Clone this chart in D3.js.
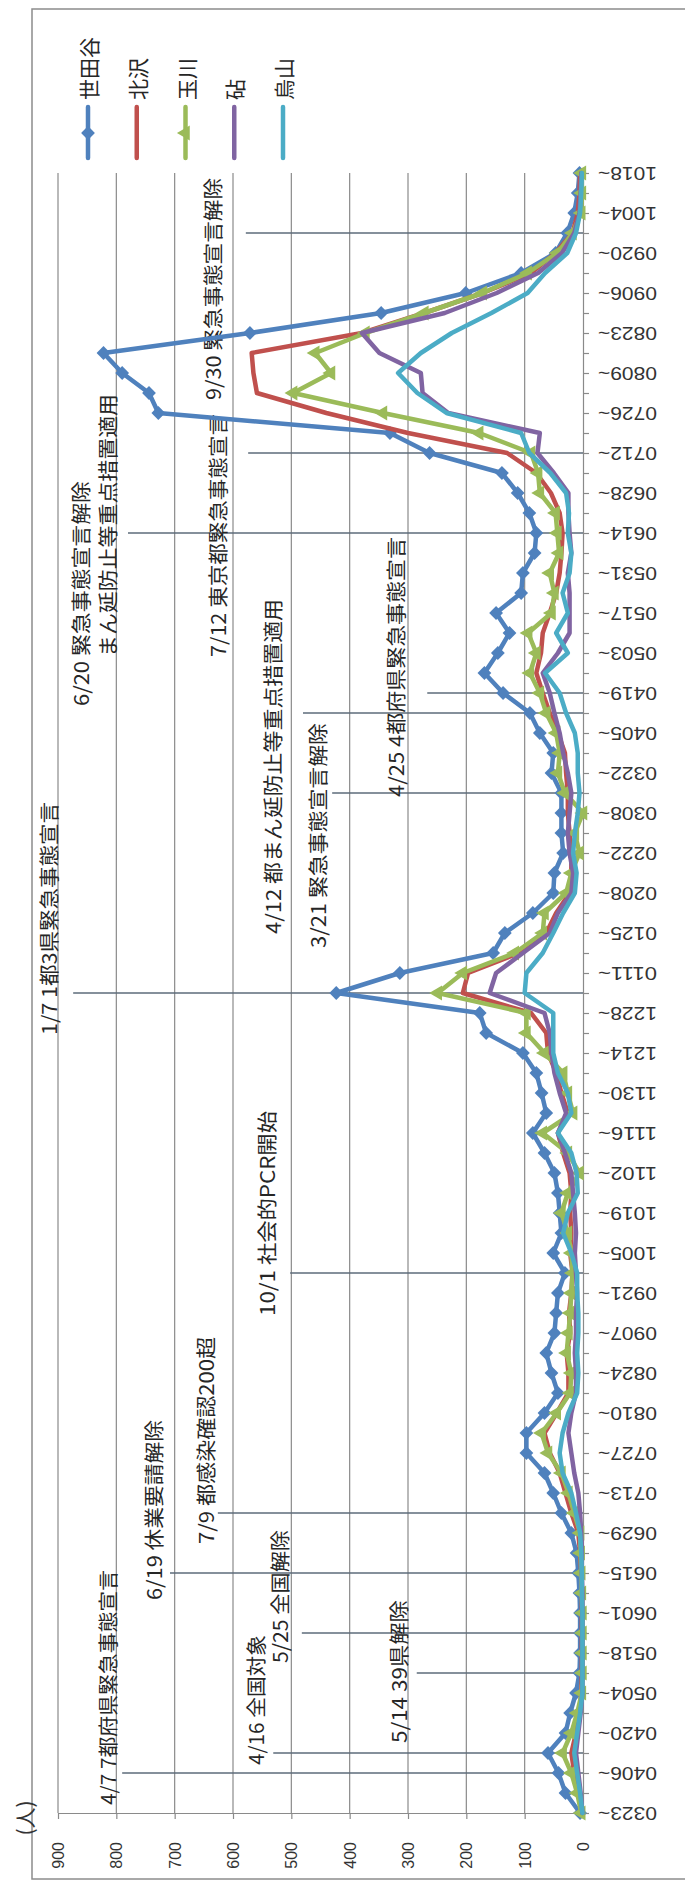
<!DOCTYPE html>
<html><head><meta charset="utf-8">
<script src="https://cdn.jsdelivr.net/npm/d3@7"></script>
<style>
html,body{margin:0;padding:0;background:#fff;}
svg{display:block;}
</style></head>
<body>
<svg id="chart" width="685" height="1881"></svg>
<script>
// ---------- DATA ----------
const weeks = ["0323","0330","0406","0413","0420","0427","0504","0511","0518","0525",
"0601","0608","0615","0622","0629","0706","0713","0720","0727","0803",
"0810","0817","0824","0831","0907","0914","0921","0928","1005","1012",
"1019","1026","1102","1109","1116","1123","1130","1207","1214","1221",
"1228","0104","0111","0118","0125","0201","0208","0215","0222","0301",
"0308","0315","0322","0329","0405","0412","0419","0426","0503","0510",
"0517","0524","0531","0607","0614","0621","0628","0705","0712","0719",
"0726","0802","0809","0816","0823","0830","0906","0913","0920","0927",
"1004","1011","1018"];

const seriesNames = ["世田谷","北沢","玉川","砧","烏山"];

const setagaya = [5,30,42,60,30,22,12,6,5,5,
5,6,8,11,20,37,51,66,97,97,
66,43,54,63,49,46,43,31,51,37,
40,43,49,66,86,63,71,80,103,166,
177,423,314,154,134,86,51,49,34,37,
37,37,54,51,74,91,137,169,146,126,
149,106,103,83,80,92,112,139,263,331,
728,744,790,822,571,346,201,106,47,27,
15,9,6];

const kitazawa = [2,8,15,20,12,6,3,2,2,2,
2,2,3,5,8,20,30,40,57,66,
45,25,25,28,22,24,20,18,22,20,
22,20,23,34,43,26,37,46,60,63,
89,206,197,110,63,46,23,20,20,23,
26,26,29,31,43,57,69,80,72,69,
57,46,40,37,35,40,55,80,130,300,
440,559,565,568,379,272,172,89,47,18,
9,6,5];

const tamagawa = [3,10,20,35,20,10,2,1,1,1,
1,2,3,4,5,15,25,37,60,71,
45,22,20,28,25,22,20,18,20,26,
37,26,6,26,69,17,26,34,66,97,
97,249,206,117,69,66,29,20,6,14,
0,31,43,40,46,63,74,91,80,94,
54,49,57,41,44,47,74,77,89,178,
343,497,432,459,373,272,172,95,44,18,
3,2,2];

const kinuta = [1,4,8,12,8,4,1,1,1,1,
1,1,2,2,3,5,8,15,20,25,
20,12,12,14,12,12,10,12,14,12,
14,17,20,31,43,29,40,49,54,57,
66,160,149,103,57,43,20,17,23,26,
23,20,26,34,40,49,57,69,43,23,
23,23,26,20,23,25,25,50,78,74,
231,275,278,349,379,237,148,77,36,15,
6,4,3];

const karasuyama = [1,5,10,15,10,5,1,1,1,1,
1,2,2,3,5,12,20,35,40,35,
25,10,8,10,8,8,10,10,20,34,
26,9,11,20,43,20,26,43,51,51,
51,100,97,69,51,34,14,11,17,14,
9,6,9,9,14,29,40,65,26,46,
26,35,23,20,26,24,29,56,92,106,
234,284,317,278,225,157,95,65,27,12,
5,3,2];

const valueTicks = [0,100,200,300,400,500,600,700,800,900];

// annotation events: week in which the line is drawn, value the line reaches, text
const annWeeks = ["0406","0413","0511","0525","0615","0706","0928","0104","0315","0412","0419","0614","0712","0927"];
const annReach = [790,531,285,482,708,626,502,874,430,480,267,780,574,578];
const annTexts = ["4/7 7都府県緊急事態宣言","4/16 全国対象","5/25 全国解除","5/14 39県解除",
"6/19 休業要請解除","7/9 都感染確認200超","10/1 社会的PCR開始","1/7 1都3県緊急事態宣言",
"3/21 緊急事態宣言解除","4/12 都まん延防止等重点措置適用","4/25 4都府県緊急事態宣言",
"6/20 緊急事態宣言解除","まん延防止等重点措置適用","7/12 東京都緊急事態宣言","9/30 緊急事態宣言解除"];
// text placement: [value at text centre, week index where text starts, text length px]
const annTextLayout = [[816,0.4,235],[561,2.4,130],[521,7.5,133],[317,3.5,143],
[737,10.65,180],[648,13.45,207],[542,24.85,205],[916,38.9,233],
[456,43.25,225],[533,43.95,335],[322,50.8,260],
[862,55.35,225],[816,57.8,263],[626,57.8,243],[636,70.65,222]];

// ---------- STYLE / LAYOUT ----------
const colors = ["#4F81BD","#C0504D","#9BBB59","#8064A2","#4BACC6"];
const markers = ["diamond",null,"triangle",null,null];
const plot = {left:58, right:583, top:173, bottom:1813};
const jpFont = "'Noto Sans CJK JP','Noto Sans',sans-serif";
const numFont = "'Liberation Sans',Arial,sans-serif";
const gridColor = "#8a8a8a";
const annColor = "#5d6b7a";

const svg = d3.select("#chart");

// chart area frame
svg.append("rect").attr("x",32).attr("y",9).attr("width",720).attr("height",1870)
  .attr("fill","#fff").attr("stroke","#8c8c8c").attr("stroke-width",1.5);

const x = d3.scaleLinear().domain([0,900]).range([plot.right, plot.left]);
const yCat = d3.scalePoint().domain(weeks).range([plot.bottom, plot.top]);
const yIdx = d3.scaleLinear().domain([0, weeks.length-1]).range([plot.bottom, plot.top]);

// gridlines
svg.append("g").selectAll("line").data(valueTicks.filter(v=>v>0)).join("line")
  .attr("x1",d=>x(d)).attr("x2",d=>x(d))
  .attr("y1",plot.top).attr("y2",plot.bottom)
  .attr("stroke",gridColor).attr("stroke-width",1.2);

// value axis (bottom, rotated labels)
const vAxis = svg.append("g").attr("transform",`translate(0,${plot.bottom})`)
  .call(d3.axisBottom(x).tickValues(valueTicks).tickSize(6).tickSizeOuter(0).tickFormat(d3.format("d")));
vAxis.select(".domain").attr("stroke",gridColor).attr("stroke-width",1.2);
vAxis.selectAll(".tick line").attr("stroke",gridColor).attr("stroke-width",1.2);
vAxis.selectAll(".tick text")
  .attr("y",null).attr("dy",null)
  .attr("transform","translate(0,29) rotate(-90)")
  .attr("text-anchor","end").attr("dominant-baseline","central")
  .attr("fill","#333").style("font-family",numFont).style("font-size","16px");

// category axis (vertical at value 0)
const cAxis = svg.append("g").attr("transform",`translate(${plot.right},0)`)
  .call(d3.axisRight(yCat).tickValues(weeks).tickSize(6).tickSizeOuter(0)
    .tickFormat((d,i)=> i%2===0 ? d+"~" : ""));
cAxis.select(".domain").attr("stroke",gridColor).attr("stroke-width",1.2);
cAxis.selectAll(".tick line").attr("stroke",gridColor).attr("stroke-width",1.2);
cAxis.selectAll(".tick text")
  .attr("x",null).attr("dy",null)
  .attr("transform","translate(15,0) rotate(180)")
  .attr("text-anchor","end").attr("dominant-baseline","central")
  .attr("textLength",function(){ return this.textContent ? 59 : null; })
  .attr("lengthAdjust","spacingAndGlyphs")
  .attr("fill","#333").style("font-family",numFont).style("font-size","19px");

// annotation lines
svg.append("g").selectAll("line").data(annWeeks).join("line")
  .attr("x1",(d,i)=>x(annReach[i])).attr("x2",x(0))
  .attr("y1",d=>yCat(d)).attr("y2",d=>yCat(d))
  .attr("stroke",annColor).attr("stroke-width",1.4);

// annotation texts
svg.append("g").selectAll("text").data(annTexts).join("text")
  .attr("transform",(d,i)=>`translate(${x(annTextLayout[i][0])},${yIdx(annTextLayout[i][1])}) rotate(-90)`)
  .attr("text-anchor","start").attr("dominant-baseline","central")
  .attr("textLength",(d,i)=>annTextLayout[i][2]).attr("lengthAdjust","spacingAndGlyphs")
  .attr("fill","#262626").style("font-family",jpFont).style("font-size","20px")
  .text(d=>d);

// series
const allSeries = [setagaya,kitazawa,tamagawa,kinuta,karasuyama];
const line = d3.line().x(d=>x(d)).y((d,i)=>yIdx(i)).curve(d3.curveLinear);
const diamond = d3.symbol(d3.symbolSquare, 95);
const tri = d3.symbol(d3.symbolTriangle, 95);

allSeries.forEach((s,k)=>{
  const g = svg.append("g");
  g.append("path").datum(s).attr("d",line)
    .attr("fill","none").attr("stroke",colors[k]).attr("stroke-width",4.5)
    .attr("stroke-linejoin","round").attr("stroke-linecap","round");
  if(markers[k]==="diamond"){
    g.selectAll("path.m").data(s).join("path").attr("class","m")
      .attr("d",diamond)
      .attr("transform",(d,i)=>`translate(${x(d)},${yIdx(i)}) rotate(45)`)
      .attr("fill",colors[k]);
  } else if(markers[k]==="triangle"){
    g.selectAll("path.m").data(s).join("path").attr("class","m")
      .attr("d",tri)
      .attr("transform",(d,i)=>`translate(${x(d)},${yIdx(i)}) rotate(-90)`)
      .attr("fill",colors[k]);
  }
});

// legend (rotated)
const legX0 = 88, legStep = 48.75;
const leg = svg.append("g");
seriesNames.forEach((name,k)=>{
  const lx = legX0 + k*legStep;
  leg.append("line").attr("x1",lx).attr("x2",lx).attr("y1",107).attr("y2",158)
    .attr("stroke",colors[k]).attr("stroke-width",4.5).attr("stroke-linecap","round");
  if(markers[k]==="diamond"){
    leg.append("path").attr("d",diamond).attr("transform",`translate(${lx},133) rotate(45)`).attr("fill",colors[k]);
  } else if(markers[k]==="triangle"){
    leg.append("path").attr("d",tri).attr("transform",`translate(${lx},133) rotate(-90)`).attr("fill",colors[k]);
  }
  leg.append("text").attr("transform",`translate(${lx},100) rotate(-90)`)
    .attr("text-anchor","start").attr("dominant-baseline","central")
    .attr("fill","#262626").style("font-family",jpFont).style("font-size","21px")
    .text(name);
});

// unit label
svg.append("text").attr("transform","translate(24,1818) rotate(-90)")
  .attr("text-anchor","middle").attr("dominant-baseline","central")
  .attr("fill","#333").style("font-family",jpFont).style("font-size","21px")
  .text("(人)");
</script>
</body></html>
